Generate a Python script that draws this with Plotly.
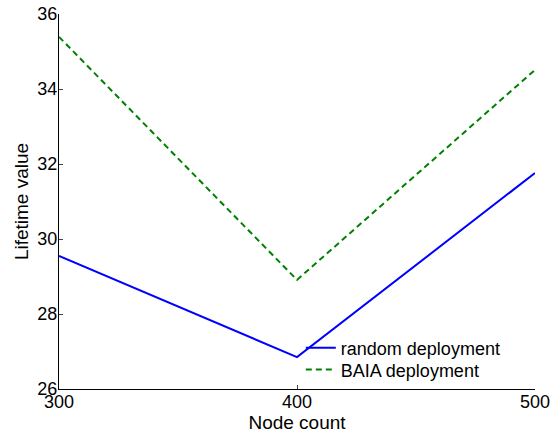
import plotly.graph_objects as go

node_count = [300, 400, 500]
random_deployment = [29.55, 26.85, 31.76]
baia_deployment = [35.39, 28.91, 34.51]
x_ticks = [300, 400, 500]
y_ticks = [26, 28, 30, 32, 34, 36]

fig = go.Figure()
fig.add_trace(go.Scatter(x=node_count, y=random_deployment, mode="lines",
                         name="random deployment", legend="legend",
                         line=dict(color="#0000ff", width=2)))
fig.add_trace(go.Scatter(x=node_count, y=baia_deployment, mode="lines",
                         name="BAIA deployment", legend="legend2",
                         line=dict(color="#008000", width=2, dash="6px,4px")))

font = "Liberation Sans, Arial, sans-serif"
leg_common = dict(xanchor="left", yanchor="middle",
                  bgcolor="rgba(0,0,0,0)", borderwidth=0,
                  font=dict(family=font, size=18, color="black"),
                  itemwidth=30)
fig.update_layout(
    width=553, height=439,
    margin=dict(l=59, r=18, t=14, b=50, autoexpand=False),
    paper_bgcolor="white", plot_bgcolor="white",
    font=dict(family=font, size=18, color="black"),
    showlegend=True,
    legend=dict(x=0.508, y=0.109, **leg_common),
    legend2=dict(x=0.508, y=0.051, **leg_common),
    xaxis=dict(range=[300, 500], tickvals=x_ticks, ticks="inside", ticklen=4,
               showline=True, linecolor="black", linewidth=1, showgrid=False,
               zeroline=False, ticklabeloverflow="allow", ticklabelstandoff=-4,
               automargin=False,
               title=dict(text="Node count", font=dict(size=19), standoff=0),
               tickfont=dict(size=18)),
    yaxis=dict(range=[26, 36], tickvals=y_ticks, ticks="inside", ticklen=4,
               showline=True, linecolor="black", linewidth=1, showgrid=False,
               zeroline=False, ticklabeloverflow="allow", ticklabelstandoff=-3,
               automargin=False,
               title=dict(text="Lifetime value", font=dict(size=19), standoff=3),
               tickfont=dict(size=18)),
)

fig.write_html("out.html", config={"displayModeBar": False},
               post_script="document.body.style.margin='0';document.body.style.overflow='hidden';")
